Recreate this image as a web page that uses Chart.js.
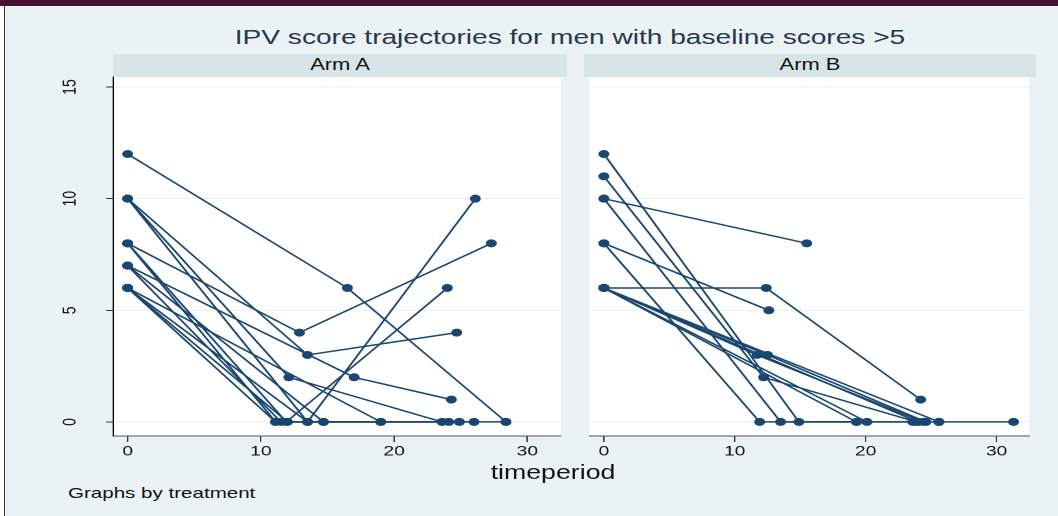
<!DOCTYPE html>
<html>
<head>
<meta charset="utf-8">
<script src="https://cdn.jsdelivr.net/npm/chart.js@4.4.0/dist/chart.umd.min.js"></script>
<style>
  body { margin: 0; width: 1058px; height: 516px; overflow: hidden; background: #eaf2f3; font-family: "Liberation Sans", Arial, sans-serif; }
  #topbar { position: absolute; left: 0; top: 0; width: 1058px; height: 6px; background: #4a1232; }
  #leftedge { position: absolute; left: 0; top: 6px; width: 4px; height: 510px; background: #fff; border-right: 1px solid #333; }
  .txt { position: absolute; white-space: nowrap; transform: translate(-50%, -50%) scaleX(1.37); color: #111; }
  .strip { position: absolute; top: 54px; height: 23px; background: #d7e5e9; }
  .wrap { position: absolute; top: 70px; transform-origin: left top; transform: scaleX(1.37); }
</style>
</head>
<body>
<div id="topbar"></div>
<div id="leftedge"></div>
<div class="txt" style="left:570px; top:37px; font-size:20.5px; color:#25384f;">IPV score trajectories for men with baseline scores &gt;5</div>
<div class="strip" style="left:113px; width:454px;"></div>
<div class="strip" style="left:584px; width:452px;"></div>
<div class="txt" style="left:340px; top:65px; font-size:16px;">Arm A</div>
<div class="txt" style="left:810px; top:65px; font-size:16px;">Arm B</div>
<div class="wrap" style="left:40px;"><canvas id="armA"></canvas></div>
<div class="wrap" style="left:584px;"><canvas id="armB"></canvas></div>
<div class="txt" style="left:553px; top:472px; font-size:19.5px;">timeperiod</div>
<div class="txt" style="left:68px; top:492px; font-size:15px; transform: translate(0, -50%) scaleX(1.37); transform-origin: left center;">Graphs by treatment</div>

<script>
// stretch of the original picture (markers are ellipses)
const S = 1.37;

const xTickValues = [0, 10, 20, 30];
const yTickValues = [0, 5, 10, 15];

// one row per man: visit times and IPV scores
const armATimes = [
    [0, 16.5, 28.4],
    [0, 12.1, 23.6],
    [0, 13.5, 24.7],
    [0, 13.5, 26.1],
    [0, 12.9, 27.3],
    [0, 11.9, 24.0],
    [0, 11.1, 19.0],
    [0, 17.0, 24.3],
    [0, 14.7, 28.4],
    [0, 11.5, 26.0],
    [0, 11.1, 24.1],
    [0, 12.0, 14.7],
    [0, 13.5, 24.9],
    [0, 19.0]
];
const armAScores = [
    [12, 6, 0],
    [10, 2, 0],
    [10, 3, 4],
    [10, 0, 10],
    [8, 4, 8],
    [8, 0, 6],
    [8, 0, 0],
    [7, 2, 1],
    [7, 0, 0],
    [7, 0, 0],
    [6, 0, 0],
    [6, 0, 0],
    [6, 0, 0],
    [6, 0]
];

const armBTimes = [
    [0, 14.9, 25.6],
    [0, 12.2, 23.9],
    [0, 13.5, 23.6],
    [0, 15.5],
    [0, 12.6],
    [0, 11.9, 19.3],
    [0, 12.4, 24.2],
    [0, 11.7, 24.4],
    [0, 12.5, 24.6],
    [0, 20.1],
    [0, 19.3],
    [0, 24.0],
    [0, 25.6, 31.3]
];
const armBScores = [
    [12, 0, 0],
    [11, 2, 0],
    [10, 0, 0],
    [10, 8],
    [8, 5],
    [8, 0, 0],
    [6, 6, 1],
    [6, 3, 0],
    [6, 3, 0],
    [6, 0],
    [6, 0],
    [6, 0],
    [6, 0, 0]
];

const navy = '#1a476f';
const tickFont = { family: '"Liberation Sans", Arial, sans-serif', size: 14 };

const plotBg = {
    id: 'plotBg',
    beforeDraw(chart) {
        const { ctx, chartArea: a } = chart;
        ctx.save();
        ctx.fillStyle = '#ffffff';
        ctx.fillRect(a.left, a.top, a.width, a.height);
        ctx.restore();
    }
};

function noPad(s) {
    s.paddingTop = 0;
    s.paddingBottom = 0;
    s.paddingLeft = 0;
    s.paddingRight = 0;
}

function makeChart(id, times, scores, boxWidth, yAxisWidth) {
    const datasets = times.map((row, i) => ({
        data: row.map((t, j) => ({ x: t, y: scores[i][j] })),
        showLine: true,
        borderColor: navy,
        backgroundColor: navy,
        borderWidth: 1.5,
        pointRadius: 4,
        pointBorderWidth: 0,
        pointHoverRadius: 4
    }));

    const canvas = document.getElementById(id);
    canvas.width = boxWidth / S;
    canvas.height = 400;

    new Chart(canvas, {
        type: 'scatter',
        data: { datasets: datasets },
        options: {
            responsive: false,
            animation: false,
            devicePixelRatio: 2,
            layout: { padding: { top: 7, left: 0, right: 0, bottom: 0 } },
            plugins: { legend: { display: false }, tooltip: { enabled: false } },
            scales: {
                x: {
                    type: 'linear',
                    min: -1.1,
                    max: 32.5,
                    afterBuildTicks: s => { s.ticks = xTickValues.map(v => ({ value: v })); },
                    afterFit: s => { s.height = 34; noPad(s); },
                    grid: { drawOnChartArea: false, drawTicks: true, tickLength: 6, tickColor: '#333', tickWidth: 1 },
                    border: { display: true, color: '#555', width: 1 },
                    ticks: { font: tickFont, color: '#111', padding: 1, maxRotation: 0 }
                },
                y: {
                    type: 'linear',
                    min: -0.63,
                    max: 15.45,
                    afterBuildTicks: s => { s.ticks = yTickValues.map(v => ({ value: v })); },
                    afterFit: s => { s.width = yAxisWidth / S; noPad(s); },
                    grid: { color: '#eaf2f3', lineWidth: 1, drawTicks: yAxisWidth > 0, tickLength: 5, tickColor: '#333' },
                    border: { display: yAxisWidth > 0, color: '#000', width: 1 },
                    ticks: {
                        display: yAxisWidth > 0,
                        font: tickFont, color: '#111',
                        minRotation: 90, maxRotation: 90,
                        crossAlign: 'center',
                        padding: 18.6
                    }
                }
            }
        },
        plugins: [plotBg]
    });
}

makeChart('armA', armATimes, armAScores, 527, 73);
makeChart('armB', armBTimes, armBScores, 452, 0);
</script>
</body>
</html>
